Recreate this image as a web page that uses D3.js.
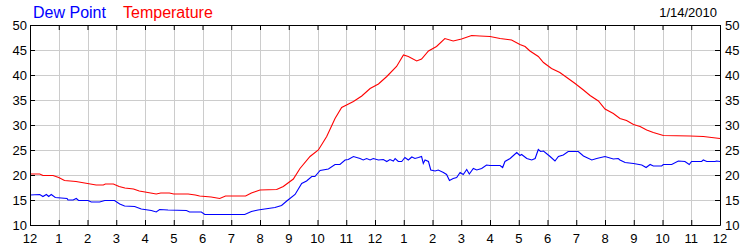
<!DOCTYPE html>
<html>
<head>
<meta charset="utf-8">
<script src="https://cdn.jsdelivr.net/npm/d3@7"></script>
<style>
  body { margin: 0; background: #fff; }
  svg text { font-family: "Liberation Sans", Arial, sans-serif; }
</style>
</head>
<body>
<svg id="chart" width="750" height="250"></svg>
<script>
// region data
const hourLabels = ['12', '1', '2', '3', '4', '5', '6', '7', '8', '9', '10', '11',
  '12', '1', '2', '3', '4', '5', '6', '7', '8', '9', '10', '11', '12'];
const yTicks = [10, 15, 20, 25, 30, 35, 40, 45, 50];
const dateLabel = '1/14/2010';

const tempHours = [0, 0.34, 0.45, 0.8, 1.0, 1.2, 1.6, 2.0, 2.3, 2.55, 2.62, 2.9, 3.1, 3.3, 3.6, 3.8, 4.0,
  4.39, 4.55, 4.85, 5.0, 5.5, 5.75, 5.9, 6.3, 6.6, 6.8, 7.5, 7.7, 8.0,
  8.58, 8.81, 9.16, 9.39, 9.74, 10.03, 10.32, 10.61, 10.84, 11.01, 11.25, 11.54, 11.83, 12.12, 12.41,
  12.75, 12.99, 13.16, 13.45, 13.62, 13.86, 14.14, 14.43, 14.72, 15.01, 15.36, 15.65, 16.0,
  16.35, 16.75, 17.04, 17.22, 17.39, 17.68, 17.86, 18.14, 18.43, 18.72, 18.96, 19.25, 19.48, 19.77,
  20.0, 20.29, 20.52, 20.75, 20.99, 21.22, 21.45, 21.68, 22.03, 22.96, 23.42, 24.0];
const tempValues = [20.2, 20.2, 19.9, 19.9, 19.5, 18.9, 18.7, 18.3, 18.0, 18.0, 18.2, 18.2, 17.7, 17.4, 17.2, 16.8, 16.6,
  16.2, 16.4, 16.4, 16.2, 16.2, 16.0, 15.8, 15.6, 15.3, 15.8, 15.8, 16.4, 17.0,
  17.1, 17.7, 19.2, 21.3, 23.7, 25.0, 27.7, 31.3, 33.5, 34.0, 34.7, 35.8, 37.3, 38.2, 39.7,
  41.7, 44.0, 43.7, 42.8, 43.2, 44.8, 45.7, 47.3, 46.8, 47.2, 47.9, 47.8, 47.7,
  47.3, 47.0, 46.1, 45.7, 44.8, 43.7, 42.5, 41.3, 40.5, 39.3, 38.3, 37.0, 35.9, 34.8,
  33.2, 32.3, 31.3, 30.9, 30.1, 29.7, 29.0, 28.5, 27.9, 27.8, 27.7, 27.3];

const dewHours = [0, 0.34, 0.45, 0.57, 0.65, 0.74, 0.88, 1.29, 1.32, 1.5, 1.61, 1.69, 2.02, 2.13, 2.42, 2.6,
  2.94, 3.12, 3.29, 3.64, 3.87, 4.22, 4.39, 4.51, 4.8, 5.44, 5.55, 5.96, 6.08, 7.47, 7.7, 7.93,
  8.52, 8.75, 8.93, 9.22, 9.45, 9.62, 9.8, 9.91, 10.09, 10.38, 10.61, 10.78, 10.96, 11.07, 11.25,
  11.48, 11.59, 11.71, 11.83, 11.94, 12.12, 12.29, 12.41, 12.52, 12.64, 12.7, 12.81, 12.93, 13.04,
  13.16, 13.28, 13.39, 13.51, 13.62, 13.68, 13.74, 13.86, 13.94, 14.09, 14.2, 14.38, 14.49, 14.59,
  14.72, 14.84, 14.96, 15.07, 15.19, 15.28, 15.42, 15.54, 15.71, 15.88, 16.0,
  16.35, 16.44, 16.52, 16.7, 16.93, 17.04, 17.1, 17.28, 17.45, 17.57, 17.68, 17.76, 17.86, 18.09,
  18.26, 18.38, 18.55, 18.72, 19.07, 19.25, 19.54, 19.71, 20.0, 20.29, 20.46, 20.52, 20.7, 20.99,
  21.28, 21.43, 21.57, 21.68, 21.97, 22.03, 22.32, 22.55, 22.78, 22.93, 23.01, 23.36, 23.42, 23.54,
  23.83, 23.88, 24.0];
const dewValues = [16.0, 16.1, 15.7, 16.1, 15.7, 16.1, 15.5, 15.3, 15.0, 15.0, 15.3, 14.9, 14.9, 14.6, 14.6, 14.9,
  14.9, 14.2, 13.8, 13.7, 13.2, 12.9, 12.6, 13.1, 13.0, 12.9, 12.6, 12.6, 12.1, 12.1, 12.7, 13.0,
  13.5, 13.9, 14.8, 16.1, 18.3, 18.8, 19.7, 19.7, 20.9, 21.2, 22.1, 22.1, 23.0, 23.1, 23.7,
  23.3, 23.0, 23.3, 23.0, 23.3, 23.0, 23.1, 22.7, 23.1, 22.8, 23.3, 22.7, 22.7, 23.5,
  23.0, 23.6, 23.3, 23.5, 23.7, 22.3, 23.0, 22.7, 21.0, 20.8, 21.0, 20.5, 20.1, 18.9,
  19.3, 19.5, 20.5, 20.1, 21.1, 20.2, 21.3, 21.0, 21.3, 22.0, 21.9,
  21.9, 21.5, 22.7, 23.3, 24.5, 23.9, 24.1, 23.3, 23.0, 23.3, 25.1, 24.7, 24.8, 23.7,
  22.8, 23.7, 24.0, 24.7, 24.7, 23.8, 23.0, 23.3, 23.7, 23.2, 23.3, 23.0, 22.5, 22.3,
  22.0, 21.5, 22.1, 21.8, 21.8, 22.1, 22.1, 22.8, 22.7, 22.1, 22.7, 22.7, 23.0, 22.7,
  22.7, 22.8, 22.7];
// endregion

// region size
const plotLeft = 30, plotRight = 720, plotTop = 25, plotBottom = 225;
// endregion

const svg = d3.select('#chart');

const x = d3.scaleLinear().domain([0, 24]).range([plotLeft, plotRight]);
const y = d3.scaleLinear().domain([10, 50]).range([plotBottom, plotTop]);

const hours = d3.range(hourLabels.length);

// grid
svg.append('g')
  .selectAll('line')
  .data(hours.slice(1, -1))
  .join('line')
  .attr('x1', d => Math.round(x(d)) + 0.5).attr('x2', d => Math.round(x(d)) + 0.5)
  .attr('y1', plotTop).attr('y2', plotBottom)
  .attr('stroke', '#cccccc');

svg.append('g')
  .selectAll('line')
  .data(yTicks.slice(1, -1))
  .join('line')
  .attr('y1', d => y(d) + 0.5).attr('y2', d => y(d) + 0.5)
  .attr('x1', plotLeft).attr('x2', plotRight)
  .attr('stroke', '#cccccc');

// lines
const line = (xs, vs) => d3.line()
  .x(i => x(xs[i]))
  .y(i => y(vs[i]))(d3.range(xs.length));

svg.append('path')
  .attr('d', line(tempHours, tempValues))
  .attr('fill', 'none')
  .attr('stroke', '#ff0000')
  .attr('stroke-width', 1.1);

svg.append('path')
  .attr('d', line(dewHours, dewValues))
  .attr('fill', 'none')
  .attr('stroke', '#0000ff')
  .attr('stroke-width', 1.1);

// axes with inner ticks
const xBottom = d3.axisTop(x).tickValues(hours).tickSize(5).tickSizeOuter(0).tickFormat('');
const xTop = d3.axisBottom(x).tickValues(hours).tickSize(5).tickSizeOuter(0).tickFormat('');
const yLeft = d3.axisRight(y).tickValues(yTicks).tickSize(5).tickSizeOuter(0).tickFormat('');
const yRight = d3.axisLeft(y).tickValues(yTicks).tickSize(5).tickSizeOuter(0).tickFormat('');

[[xBottom, `translate(0,${plotBottom})`], [xTop, `translate(0,${plotTop})`],
 [yLeft, `translate(${plotLeft},0)`], [yRight, `translate(${plotRight},0)`]].forEach(([ax, tr]) => {
  const g = svg.append('g').attr('transform', tr).call(ax);
  g.select('.domain').attr('stroke', '#000');
  g.selectAll('.tick line').attr('stroke', '#000');
});

// tick labels
svg.append('g')
  .selectAll('text')
  .data(hours)
  .join('text')
  .attr('x', d => x(d))
  .attr('y', 243)
  .attr('text-anchor', 'middle')
  .attr('font-size', 13)
  .attr('fill', '#000')
  .text((d, i) => hourLabels[i]);

svg.append('g')
  .selectAll('text')
  .data(yTicks)
  .join('text')
  .attr('x', 27)
  .attr('y', d => y(d) + 4.5)
  .attr('text-anchor', 'end')
  .attr('font-size', 13)
  .text(d => d);

svg.append('g')
  .selectAll('text')
  .data(yTicks)
  .join('text')
  .attr('x', 725)
  .attr('y', d => y(d) + 4.5)
  .attr('font-size', 13)
  .text(d => d);

// legend
svg.append('text').attr('x', 33).attr('y', 18).attr('font-size', 16)
  .attr('fill', '#0000ff').text('Dew Point');
svg.append('text').attr('x', 123).attr('y', 18).attr('font-size', 16)
  .attr('fill', '#ff0000').text('Temperature');
svg.append('text').attr('x', 717).attr('y', 17).attr('font-size', 13)
  .attr('text-anchor', 'end').attr('fill', '#000').text(dateLabel);
</script>
</body>
</html>
